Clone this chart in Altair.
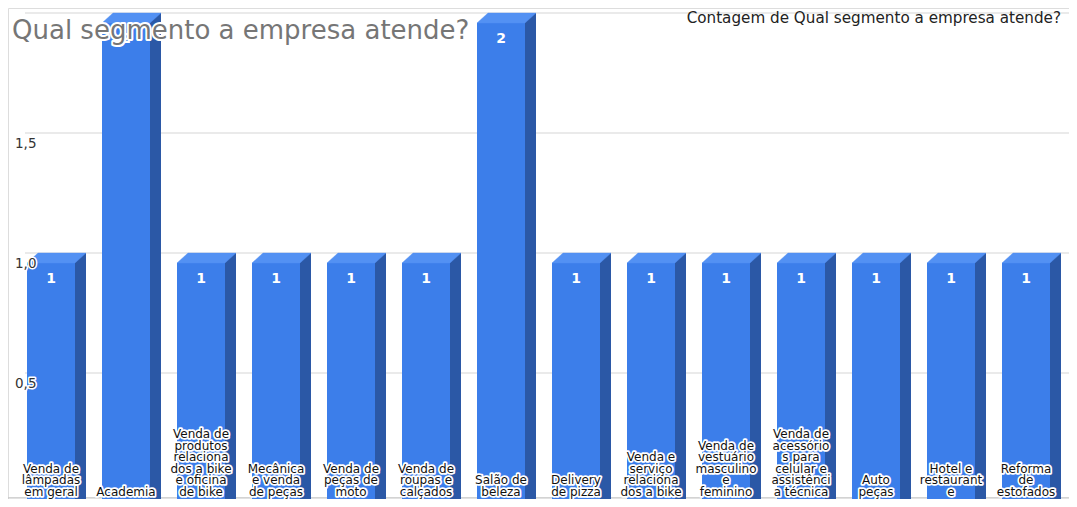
import altair as alt
import pandas as pd

# ---------------- data ----------------
categorias = [
    "Venda de lâmpadas em geral",
    "Academia",
    "Venda de produtos relacionados a bike e oficina de bike",
    "Mecânica e venda de peças",
    "Venda de peças de moto",
    "Venda de roupas e calçados",
    "Salão de beleza",
    "Delivery de pizza",
    "Venda e serviço relacionados a bike",
    "Venda de vestuário masculino e feminino",
    "Venda de acessórios para celular e assistência técnica",
    "Auto peças",
    "Hotel e restaurante",
    "Reforma de estofados",
]
rotulos = [
    "Venda de\nlâmpadas\nem geral",
    "Academia",
    "Venda de\nprodutos\nrelaciona\ndos a bike\ne oficina\nde bike",
    "Mecânica\ne venda\nde peças",
    "Venda de\npeças de\nmoto",
    "Venda de\nroupas e\ncalçados",
    "Salão de\nbeleza",
    "Delivery\nde pizza",
    "Venda e\nserviço\nrelaciona\ndos a bike",
    "Venda de\nvestuário\nmasculino\ne\nfeminino",
    "Venda de\nacessório\ns para\ncelular e\nassistênci\na técnica",
    "Auto\npeças",
    "Hotel e\nrestaurant\ne",
    "Reforma\nde\nestofados",
]
contagem = [1, 2, 1, 1, 1, 1, 2, 1, 1, 1, 1, 1, 1, 1]
grade = [0.5, 1.0, 1.5, 2.0]
marcas_y = [0.5, 1.0, 1.5]
rotulos_y = ["0,5", "1,0", "1,5"]
titulo = "Qual segmento a empresa atende?"
legenda = "Contagem de Qual segmento a empresa atende?"

# ---------------- geometry / style ----------------
W, H = 1061, 491
PITCH = 75.0          # px per category
PXY = 240.0           # px per unit of count
XMIN = -43.0 / PITCH
XMAX = XMIN + W / PITCH
YMAX = 2.0 + 5.0 / PXY
YMIN = YMAX - H / PXY
HALF_PX, DX_PX, DY_PX = 24.0, 11.0, 10.0
HALF = HALF_PX / PITCH
DX = DX_PX / PITCH
DY = DY_PX / PXY
GRID_X0 = XMIN + 17.0 / PITCH
LH = 11.6             # label line height (px)

# top face of the 3-D column: a parallelogram anchored at (centre, value)
S = HALF_PX + DX_PX
TOP_SHAPE = (
    f"M {-HALF_PX / S:.4f} {DY_PX / S:.4f} L {HALF_PX / S:.4f} {DY_PX / S:.4f} "
    f"L 1 0 L {(-HALF_PX + DX_PX) / S:.4f} 0 Z"
)
TOP_SIZE = (2 * S) ** 2

FRONT = "#3c7eea"
SIDE = "#2b58a6"
TOP = "#5391f3"
FONT = "DejaVu Sans"

xsc = alt.Scale(domain=[XMIN, XMAX], nice=False, zero=False)
ysc = alt.Scale(domain=[YMIN, YMAX], nice=False, zero=False)


def X(f):
    return alt.X(f"{f}:Q", scale=xsc, axis=None)


def Y(f):
    return alt.Y(f"{f}:Q", scale=ysc, axis=None, stack=None)


df = pd.DataFrame({
    "idx": list(range(len(categorias))),
    "categoria": categorias,
    "rotulo": rotulos,
    "valor": contagem,
})
df_grade = pd.DataFrame({"v": grade})
df_ylab = pd.DataFrame({"v": marcas_y, "t": rotulos_y})
df_tit = pd.DataFrame({"t": [titulo]})
df_leg = pd.DataFrame({"t": [legenda]})

base = alt.Chart(df)

linhas_grade = alt.Chart(df_grade).transform_calculate(
    x0=str(GRID_X0), x1=str(XMAX)
).mark_rule(color="#d6d6d6", strokeWidth=1.2).encode(
    x=X("x0"), x2="x1", y=Y("v")
)

piso = alt.Chart(df_grade).transform_filter("datum.v == 2").transform_calculate(
    x0=str(XMIN), x1=str(XMAX), yb="-0.02"
).mark_rule(color="#c4c4c4", strokeWidth=1.2).encode(
    x=X("x0"), x2="x1", y=Y("yb")
)

lateral = base.transform_calculate(
    sx0=f"datum.idx + {HALF}", sx1=f"datum.idx + {HALF + DX}", yb=str(YMIN)
).mark_rect(color=SIDE).encode(
    x=X("sx0"), x2="sx1", y=Y("valor"), y2="yb"
)

frente = base.transform_calculate(
    fx0=f"datum.idx - {HALF}", fx1=f"datum.idx + {HALF}",
    yt=f"datum.valor - {DY}", yb=str(YMIN)
).mark_rect(color=FRONT).encode(
    x=X("fx0"), x2="fx1", y=Y("yt"), y2="yb"
)

topo = base.mark_point(
    shape=TOP_SHAPE, size=TOP_SIZE, filled=True, fill=TOP, opacity=1,
    stroke=TOP, strokeWidth=0.4
).encode(x=X("idx"), y=Y("valor"))

valores = base.transform_calculate(
    yv=f"datum.valor - {26.0 / PXY}"
).mark_text(color="white", fontSize=14, fontWeight="bold", font=FONT,
            baseline="middle", align="center").encode(
    x=X("idx"), y=Y("yv"), text="valor:Q"
)

ylab_kw = dict(font=FONT, fontSize=13.5, align="left", baseline="alphabetic", dy=15)
ylab_x = XMIN + 7.0 / PITCH
ylab_halo = alt.Chart(df_ylab).transform_calculate(xl=str(ylab_x)).mark_text(
    color="white", stroke="white", strokeWidth=3, strokeJoin="round", **ylab_kw
).encode(x=X("xl"), y=Y("v"), text="t:N")
ylab = alt.Chart(df_ylab).transform_calculate(xl=str(ylab_x)).mark_text(
    color="#333333", **ylab_kw
).encode(x=X("xl"), y=Y("v"), text="t:N")

cat_kw = dict(font=FONT, fontSize=12, lineHeight=LH, align="center", baseline="alphabetic")
cat_tr = dict(
    linhas="split(datum.rotulo, '\\n')",
    yl=f"{-3.0 / PXY} + (length(split(datum.rotulo, '\\n')) - 1) * {LH / PXY}",
)
cat_halo = base.transform_calculate(**cat_tr).mark_text(
    color="white", stroke="white", strokeWidth=3.5, strokeJoin="round", **cat_kw
).encode(x=X("idx"), y=Y("yl"), text="linhas:N")
cat = base.transform_calculate(**cat_tr).mark_text(
    color="#111111", **cat_kw
).encode(x=X("idx"), y=Y("yl"), text="linhas:N")

tit_kw = dict(font=FONT, fontSize=26, align="left", baseline="alphabetic")
tit_tr = dict(xt=str(XMIN + 4.0 / PITCH), yt=str(YMAX - 30.5 / PXY))
tit_halo = alt.Chart(df_tit).transform_calculate(**tit_tr).mark_text(
    color="white", stroke="white", strokeWidth=4, strokeJoin="round", **tit_kw
).encode(x=X("xt"), y=Y("yt"), text="t:N")
tit = alt.Chart(df_tit).transform_calculate(**tit_tr).mark_text(
    color="#767676", **tit_kw
).encode(x=X("xt"), y=Y("yt"), text="t:N")

leg = alt.Chart(df_leg).transform_calculate(
    xt=str(XMAX - 8.0 / PITCH), yt=str(YMAX - 15.0 / PXY)
).mark_text(font=FONT, fontSize=15.2, align="right", baseline="alphabetic",
            color="#222222").encode(x=X("xt"), y=Y("yt"), text="t:N")

chart = alt.layer(
    linhas_grade, piso, lateral, frente, topo, valores,
    ylab_halo, ylab, cat_halo, cat, tit_halo, tit, leg
).properties(
    width=W, height=H, padding=0,
    autosize=alt.AutoSizeParams(type="none"),
).configure_view(stroke=None).configure(background="white")

chart.save("out.html", embed_options={"renderer": "svg", "actions": False})
